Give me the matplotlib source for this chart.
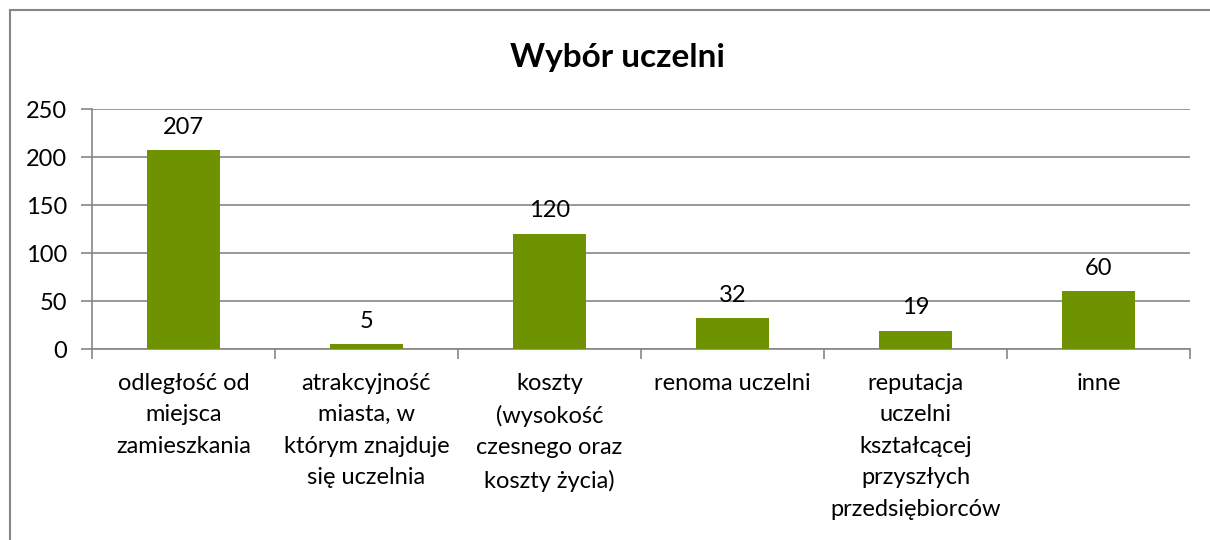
import numpy as np
import matplotlib.pyplot as plt
from matplotlib.lines import Line2D

categories = ['odległość od\nmiejsca\nzamieszkania',
              'atrakcyjność\nmiasta, w\nktórym znajduje\nsię uczelnia',
              'koszty\n(wysokość\nczesnego oraz\nkoszty życia)',
              'renoma uczelni',
              'reputacja\nuczelni\nkształcącej\nprzyszłych\nprzedsiębiorców',
              'inne']
values = [207, 5, 120, 32, 19, 60]
yticks = [0, 50, 100, 150, 200, 250]

plt.rcParams['font.family'] = ['Lato', 'DejaVu Sans']

fig = plt.figure(figsize=(12.1, 5.4), dpi=100)
ax = fig.add_axes([92/1210, 191/540, 1098/1210, 240/540])

x = np.arange(len(values))
ax.bar(x, values, width=0.4, color='#6e9200', zorder=3)
for xi, v in zip(x, values):
    ax.text(xi, v + 13, str(v), ha='center', va='bottom', fontsize=17)

ax.set_xlim(-0.5, len(values) - 0.5)
ax.set_ylim(0, 250)
ax.set_yticks(yticks)
ax.set_yticklabels([str(t) for t in yticks], fontsize=17)
ax.grid(axis='y', color='#868686', linewidth=1.2, zorder=0)

ax.set_xticks(x)
ax.set_xticklabels(categories, fontsize=17, linespacing=1.62, va='top')
ax.tick_params(axis='x', length=0, pad=17)
ax.set_xticks(np.arange(len(values) + 1) - 0.5, minor=True)
ax.tick_params(axis='x', which='minor', length=7, color='#868686', width=1.2)
ax.tick_params(axis='y', length=8, color='#868686', width=1.2, pad=10)

for s in ['top', 'right']:
    ax.spines[s].set_visible(False)
for s in ['left', 'bottom']:
    ax.spines[s].set_color('#868686')
    ax.spines[s].set_linewidth(1.2)

fig.text(617/1210, 1 - 57/540, 'Wybór uczelni', ha='center', va='center',
         fontsize=24, fontweight='bold')

# chart frame
fig.add_artist(Line2D([10/1210, 10/1210], [0, 1 - 10/540], transform=fig.transFigure,
                      color='#868686', linewidth=1.5))
fig.add_artist(Line2D([10/1210, 1], [1 - 10/540, 1 - 10/540], transform=fig.transFigure,
                      color='#868686', linewidth=1.5))

fig.savefig('out.png', dpi=100)
